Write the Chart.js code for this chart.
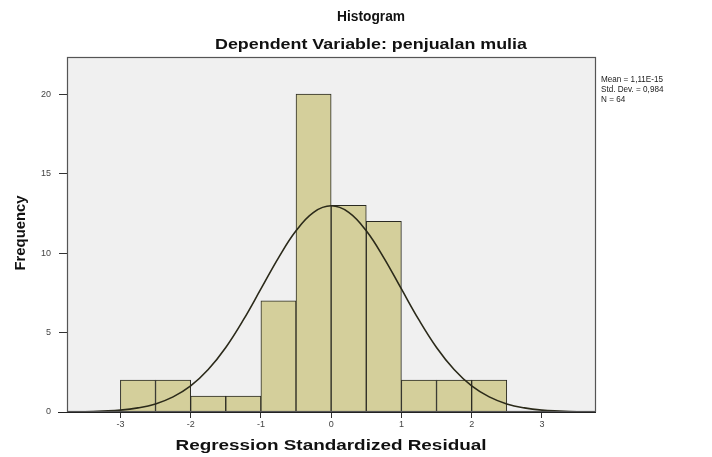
<!DOCTYPE html>
<html>
<head>
<meta charset="utf-8">
<script src="https://cdn.jsdelivr.net/npm/chart.js@4.4.1/dist/chart.umd.min.js"></script>
<style>
html,body{margin:0;padding:0;background:#fff;}
#wrap{width:712px;height:457px;position:relative;}
</style>
</head>
<body>
<div id="wrap"><canvas id="c" width="712" height="457"></canvas></div>
<script>
// Histogram bins (centers of 0.5-wide bins) and frequencies
const binCenters = [-2.75, -2.25, -1.75, -1.25, -0.75, -0.25, 0.25, 0.75, 1.25, 1.75, 2.25];
const frequencies = [2, 2, 1, 1, 7, 20, 13, 12, 2, 2, 2];
// Normal curve
const curveX = [-3.75,-3.5,-3.25,-3,-2.75,-2.5,-2.25,-2,-1.75,-1.5,-1.25,-1,-0.75,-0.5,-0.25,0,0.25,0.5,0.75,1,1.25,1.5,1.75,2,2.25,2.5,2.75,3,3.25,3.5,3.75];
const curveY = [0.01,0.02,0.06,0.12,0.26,0.51,0.95,1.64,2.67,4.06,5.79,7.74,9.70,11.40,12.56,12.97,12.56,11.40,9.70,7.74,5.79,4.06,2.67,1.64,0.95,0.51,0.26,0.12,0.06,0.02,0.01];
const xTicks = [-3, -2, -1, 0, 1, 2, 3];
const yTicks = [0, 5, 10, 15, 20];
const titleText = "Histogram";
const subtitleText = "Dependent Variable: penjualan mulia";
const xTitle = "Regression Standardized Residual";
const yTitle = "Frequency";
const statsLines = ["Mean = 1,11E-15", "Std. Dev. = 0,984", "N = 64"];

const FONT = "'Liberation Sans', Arial, sans-serif";

function fitText(ctx, text, cx, cy, width, font, rot) {
  ctx.save();
  ctx.font = font;
  const w = ctx.measureText(text).width;
  ctx.translate(cx, cy);
  if (rot) ctx.rotate(rot);
  ctx.scale(width / w, 1);
  ctx.textAlign = 'center';
  ctx.textBaseline = 'middle';
  ctx.fillText(text, 0, 0);
  ctx.restore();
}

const decor = {
  id: 'decor',
  beforeDatasetsDraw(chart) {
    const {ctx, chartArea: a} = chart;
    ctx.save();
    ctx.fillStyle = '#f0f0f0';
    ctx.fillRect(a.left, a.top, a.right - a.left, a.bottom - a.top);
    ctx.restore();
  },
  afterDraw(chart) {
    const {ctx, chartArea: a} = chart;
    ctx.save();
    ctx.strokeStyle = '#555';
    ctx.lineWidth = 1.2;
    ctx.strokeRect(a.left + 0.5, a.top + 0.5, a.right - a.left - 1, a.bottom - a.top - 1);
    ctx.strokeStyle = '#222';
    ctx.beginPath();
    ctx.moveTo(58, a.bottom + 0.5);
    ctx.lineTo(a.right, a.bottom + 0.5);
    ctx.stroke();
    ctx.fillStyle = '#111';
    fitText(ctx, titleText, 371, 17, 68, 'bold 14px ' + FONT);
    fitText(ctx, subtitleText, 371, 45, 312, 'bold 15px ' + FONT);
    fitText(ctx, xTitle, 331, 446, 311, 'bold 15px ' + FONT);
    fitText(ctx, yTitle, 21, 233, 75, 'bold 14px ' + FONT, -Math.PI / 2);
    ctx.fillStyle = '#222';
    ctx.font = '9px ' + FONT;
    const sx = 62 / ctx.measureText(statsLines[0]).width;
    statsLines.forEach((s, i) => {
      ctx.save();
      ctx.translate(601, 80 + i * 10);
      ctx.scale(sx, 1);
      ctx.textAlign = 'left';
      ctx.textBaseline = 'middle';
      ctx.fillText(s, 0, 0);
      ctx.restore();
    });
    ctx.restore();
  }
};

new Chart(document.getElementById('c'), {
  data: {
    datasets: [
      {
        type: 'line',
        data: curveX.map((x, i) => ({x: x, y: curveY[i]})),
        borderColor: '#2b2a1a',
        borderWidth: 1.6,
        pointRadius: 0,
        tension: 0.4,
        fill: false,
        order: 0
      },
      {
        type: 'bar',
        data: binCenters.map((x, i) => ({x: x, y: frequencies[i]})),
        backgroundColor: '#d4cf9b',
        borderColor: '#2a2a22',
        borderWidth: 1,
        barPercentage: 1,
        categoryPercentage: 1,
        order: 1
      }
    ]
  },
  plugins: [decor],
  options: {
    responsive: false,
    animation: false,
    layout: {padding: {left: 0, right: 116, top: 57, bottom: 0}},
    plugins: {legend: {display: false}, tooltip: {enabled: false}},
    scales: {
      x: {
        type: 'linear',
        offset: false,
        min: -3.76,
        max: 3.77,
        afterBuildTicks(s) { s.ticks = xTicks.map(v => ({value: v})); },
        afterFit(s) { s.height = 45; },
        grid: {offset: false, drawOnChartArea: false, drawTicks: true, tickLength: 6, tickColor: '#333', lineWidth: 1},
        border: {display: false},
        ticks: {color: '#444', font: {family: FONT, size: 9}, padding: 1}
      },
      y: {
        type: 'linear',
        min: 0,
        max: 22.33,
        afterBuildTicks(s) { s.ticks = yTicks.map(v => ({value: v})); },
        afterFit(s) { s.width = 67; },
        grid: {drawOnChartArea: false, drawTicks: true, tickLength: 8, tickColor: '#333', lineWidth: 1},
        border: {display: false},
        ticks: {color: '#444', font: {family: FONT, size: 9}, padding: 8}
      }
    }
  }
});
</script>
</body>
</html>
